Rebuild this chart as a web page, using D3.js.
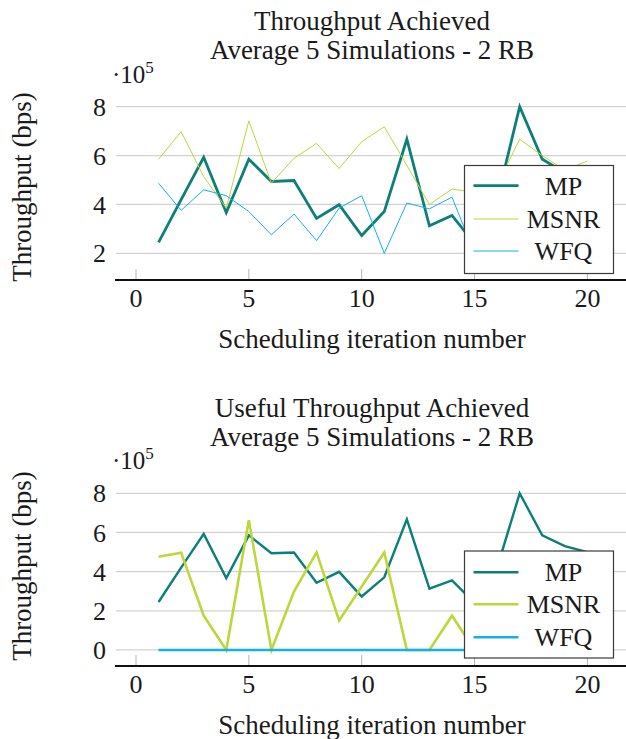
<!DOCTYPE html>
<html><head><meta charset="utf-8">
<script src="https://cdn.jsdelivr.net/npm/d3@7"></script>
<style>
body{margin:0;background:#fff}
text{font-family:"Liberation Serif","Times New Roman",serif;fill:#1a1a1a}
</style>
</head><body>
<svg id="c" width="626" height="739"></svg>
<script>
// ---- data (values in units of 10^5 bps) ----
const iterations = d3.range(1, 21);
const xTicks = [0, 5, 10, 15, 20];
const yTicksTop = [2, 4, 6, 8];
const yTicksBottom = [0, 2, 4, 6, 8];
const seriesNames = ["MP", "MSNR", "WFQ"];
const seriesColors = ["#0c7f79", "#bdd63a", "#12b0ec"];

const mpThroughput   = [2.45, 4.2, 5.93, 3.67, 5.85, 4.94, 4.98, 3.43, 3.99, 2.73, 3.71, 6.67, 3.13, 3.55, 2.4, 4.2, 8.0, 5.85, 5.3, 5.0];
const msnrThroughput = [5.85, 6.98, 5.14, 3.85, 7.42, 4.87, 5.89, 6.5, 5.47, 6.57, 7.18, 5.6, 4.0, 4.63, 4.5, 4.8, 6.67, 6.0, 5.4, 5.78];
const wfqThroughput  = [4.87, 3.76, 4.6, 4.36, 3.71, 2.76, 3.61, 2.52, 3.85, 4.36, 2.0, 4.06, 3.82, 4.3, 2.0, 3.2, 3.6, 3.3, 2.9, 3.1];

const mpUseful   = [2.45, 4.2, 5.93, 3.67, 5.85, 4.94, 4.98, 3.43, 3.99, 2.73, 3.71, 6.67, 3.13, 3.55, 2.4, 4.2, 8.0, 5.85, 5.3, 5.0];
const msnrUseful = [4.76, 4.97, 1.75, 0, 6.63, 0, 2.98, 4.98, 1.5, 3.24, 4.98, 0, 0, 1.75, 0, 0, 2.5, 1.2, 0, 0];
const wfqUseful  = [0, 0, 0, 0, 0, 0, 0, 0, 0, 0, 0, 0, 0, 0, 0, 0, 0, 0, 0, 0];

const svg = d3.select("#c");
const x = d3.scaleLinear().domain([0, 20]).range([136, 587.4]);
const plotLeft = 115, plotRight = 626;

function drawChart(cfg) {
  const g = svg.append("g");
  const y = d3.scaleLinear().domain(cfg.yDomain).range(cfg.yRange);
  const axisY = cfg.yRange[0];

  // titles
  g.append("text").attr("x", 372).attr("y", cfg.titleY).attr("text-anchor", "middle")
    .attr("font-size", 27).text(cfg.title1);
  g.append("text").attr("x", 372).attr("y", cfg.titleY + 29).attr("text-anchor", "middle")
    .attr("font-size", 27).text(cfg.title2);

  // grid
  g.selectAll(".grid").data(cfg.yTicks).enter().append("line")
    .attr("x1", plotLeft + 1).attr("x2", plotRight)
    .attr("y1", d => y(d)).attr("y2", d => y(d))
    .attr("stroke", "#d2d2d2").attr("stroke-width", 1.2);

  // y tick labels
  g.selectAll(".yl").data(cfg.yTicks).enter().append("text")
    .attr("x", 106).attr("y", d => y(d)).attr("dy", "0.35em")
    .attr("text-anchor", "end").attr("font-size", 26).text(d => d);

  // scale factor label
  const sf = g.append("text").attr("x", 112).attr("y", cfg.yRange[1] - 24).attr("font-size", 25);
  sf.append("tspan").text("\u00b710");
  sf.append("tspan").attr("dy", -10).attr("font-size", 17).text("5");

  // x ticks
  g.selectAll(".xt").data(xTicks).enter().append("line")
    .attr("x1", d => x(d)).attr("x2", d => x(d))
    .attr("y1", axisY - 11).attr("y2", axisY)
    .attr("stroke", "#b5b5b5").attr("stroke-width", 1);
  g.selectAll(".xl").data(xTicks).enter().append("text")
    .attr("x", d => x(d)).attr("y", axisY + 27).attr("text-anchor", "middle")
    .attr("font-size", 26).text(d => d);

  // series
  const line = d3.line().x((d, i) => x(iterations[i])).y(d => y(d));
  cfg.series.forEach((s, k) => {
    g.append("path").datum(s).attr("d", line).attr("fill", "none")
      .attr("stroke", seriesColors[k]).attr("stroke-width", cfg.widths[k])
      .attr("stroke-linejoin", "miter");
  });

  // x axis line
  g.append("line").attr("x1", plotLeft).attr("x2", plotRight)
    .attr("y1", axisY).attr("y2", axisY).attr("stroke", "#111").attr("stroke-width", 2);

  // axis labels
  g.append("text").attr("x", 372).attr("y", axisY + 68).attr("text-anchor", "middle")
    .attr("font-size", 27).text("Scheduling iteration number");
  g.append("text").attr("transform", `translate(31,${cfg.yLabelC}) rotate(-90)`)
    .attr("text-anchor", "middle").attr("font-size", 27).text("Throughput (bps)");

  // legend
  const L = cfg.legend;
  g.append("rect").attr("x", L.x).attr("y", L.y).attr("width", 149).attr("height", L.h)
    .attr("fill", "#fff").attr("stroke", "#3a3a3a").attr("stroke-width", 1.2);
  seriesNames.forEach((n, k) => {
    const ly = L.rows[k];
    g.append("line").attr("x1", L.x + 9).attr("x2", L.x + 54).attr("y1", ly).attr("y2", ly)
      .attr("stroke", seriesColors[k]).attr("stroke-width", cfg.widths[k]);
    g.append("text").attr("x", L.x + 99).attr("y", ly).attr("dy", "0.35em")
      .attr("text-anchor", "middle").attr("font-size", 26).text(n);
  });
}

drawChart({
  title1: "Throughput Achieved", title2: "Average 5 Simulations - 2 RB", titleY: 30,
  yDomain: [0.91, 8], yRange: [280, 106.7], yTicks: yTicksTop, yLabelC: 187,
  series: [mpThroughput, msnrThroughput, wfqThroughput], widths: [2.8, 1, 1],
  legend: { x: 464.5, y: 165.5, h: 108, rows: [185.7, 219, 251] }
});
drawChart({
  title1: "Useful Throughput Achieved", title2: "Average 5 Simulations - 2 RB", titleY: 417,
  yDomain: [-0.82, 8], yRange: [666, 493.3], yTicks: yTicksBottom, yLabelC: 566,
  series: [mpUseful, msnrUseful, wfqUseful], widths: [2.4, 2.6, 2.6],
  legend: { x: 464.5, y: 551, h: 107, rows: [572.3, 604.3, 637.3] }
});
</script>
</body></html>
